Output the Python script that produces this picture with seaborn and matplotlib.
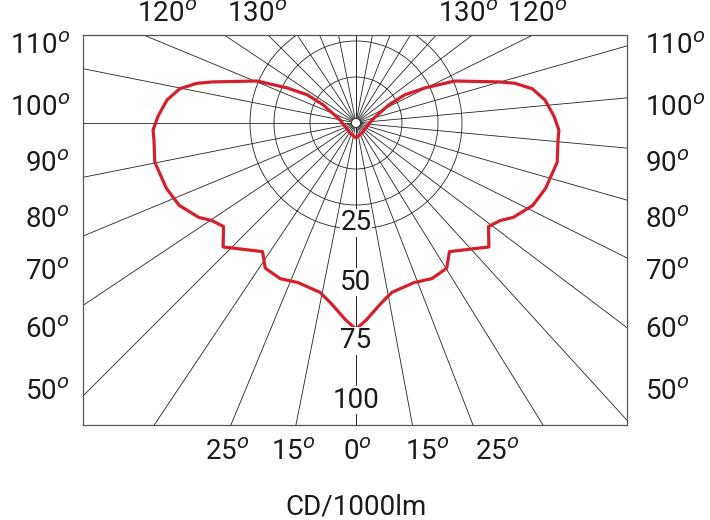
import numpy as np
import pandas as pd
import matplotlib
matplotlib.use("Agg")
import matplotlib.pyplot as plt
import seaborn as sns

sns.set_style("white")
plt.rcParams['font.family'] = ['Roboto', 'DejaVu Sans']
plt.rcParams['mathtext.fontset'] = 'dejavusans'

# 配光曲线（右半边，左右对称），角度从正下方起算，单位 cd/1000lm
curve_angle = [0, 3, 8, 12, 20, 26, 32, 36, 47, 52, 56, 59, 65, 71, 79, 85, 88,
               92, 97, 101, 104, 106, 113, 117, 120, 119, 101, 31, 0]
curve_cd = [74.4, 71.2, 65.6, 62.5, 61.3, 62.5, 61.8, 57.4, 65.6, 60.7, 62.9, 66.2,
            70.4, 72.4, 74.0, 73.2, 73.3, 71.5, 68.7, 64.8, 59.2, 53.8, 38.8, 27.9,
            20.4, 13.6, 5.9, 4.2, 5.4]

# 刻度文字
ring_values = [25, 50, 75, 100]
side_labels = ['110', '100', '90', '80', '70', '60', '50']
top_labels = ['120', '130', '130', '120']
bottom_labels = ['25', '15', '0', '15', '25']
unit_label = 'CD/1000lm'

# 绘图比例（像素/单位）
K = 2.77
deg = r'$^{\mathit{o}}$'

# 组合左右两半
ang = np.radians(np.array(curve_angle, dtype=float))
r = np.array(curve_cd) * K
xr = r * np.sin(ang)
yr = -r * np.cos(ang)
df = pd.DataFrame({
    'x': np.concatenate([xr, -xr[::-1]]),
    'y': np.concatenate([yr, yr[::-1]]),
})

fig = plt.figure(figsize=(7.1, 5.2), dpi=100)
ax = fig.add_axes([83 / 710, 95 / 520, 544 / 710, 390 / 520])
ax.set_xlim(-273, 271)
ax.set_ylim(-302, 88)
ax.set_aspect('equal')
ax.set_xticks([])
ax.set_yticks([])
for s in ax.spines.values():
    s.set_color('#555555')
    s.set_linewidth(0.9)

# 径向线（左右两侧分度略不同，按原图）
for a in np.arange(0, 180.01, 180 / 16):
    t = np.radians(a)
    ax.plot([0, -1000 * np.sin(t)], [0, -1000 * np.cos(t)], color='#222222', lw=0.6, zorder=1)
for a in np.arange(0, 180.01, 180 / 17):
    t = np.radians(a)
    ax.plot([0, 1000 * np.sin(t)], [0, -1000 * np.cos(t)], color='#222222', lw=0.6, zorder=1)

# 同心圆
for rad in [46, 82, 106]:
    ax.add_patch(plt.Circle((0, 0), rad, fill=False, color='#222222', lw=0.6, zorder=1))

sns.lineplot(data=df, x='x', y='y', sort=False, estimator=None, color='#d3202a',
             lw=2.3, ax=ax, zorder=3)
ax.add_patch(plt.Circle((0, 0), 4.5, facecolor='white', edgecolor='#222222', lw=0.6, zorder=4))
ax.set_xlabel('')
ax.set_ylabel('')

fs = 20
kw = dict(fontsize=fs, color='#1a1a1a', clip_on=False, va='center', zorder=5)

# 光强刻度
for v in ring_values:
    ax.text(0, -(41 + 2.36 * v), str(v), ha='center', bbox=dict(fc='white', ec='none', pad=0.5), **kw)

# 两侧角度
side_y = [47, 108, 165, 220, 272, 330, 392]
for lab, py in zip(side_labels, side_y):
    ax.text(70 - 356, 123 - py, lab + deg, ha='right', **kw)
    ax.text(645 - 356, 123 - py, lab + deg, ha='left', **kw)

# 顶部角度
for lab, px in zip(top_labels, [167, 257, 468, 537]):
    ax.text(px - 356, 123 - 14, lab + deg, ha='center', **kw)

# 底部角度
for lab, px in zip(bottom_labels, [227, 293, 357, 427, 497]):
    ax.text(px - 356, 123 - 453, lab + deg, ha='center', **kw)

ax.text(0, 123 - 507, unit_label, ha='center', **kw)

fig.savefig('out.png', dpi=100, facecolor='white')
